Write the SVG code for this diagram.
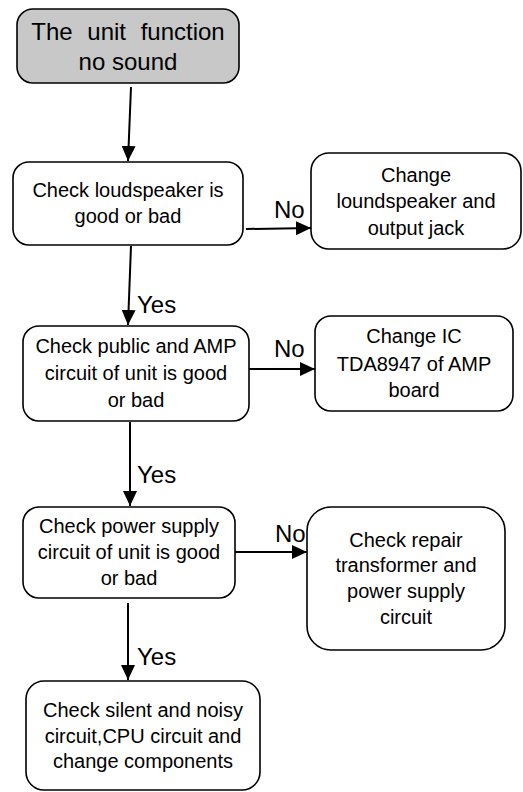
<svg xmlns="http://www.w3.org/2000/svg" width="523" height="792" viewBox="0 0 523 792">
<style>
.box{fill:#fff;stroke:#000;stroke-width:1.6}
.start{fill:#c8c8c8;stroke:#000;stroke-width:1.6}
.t{font-family:"Liberation Sans",Arial,sans-serif;font-size:20px;text-anchor:middle;fill:#000}
.tt{font-family:"Liberation Sans",Arial,sans-serif;font-size:24px;text-anchor:middle;fill:#000}
.lbl{font-family:"Liberation Sans",Arial,sans-serif;font-size:24px;fill:#000}
.c{stroke:#000;stroke-width:2;fill:none;marker-end:url(#ah)}
</style>
<defs>
<marker id="ah" markerUnits="userSpaceOnUse" markerWidth="16" markerHeight="14" refX="15" refY="7" orient="auto">
<path d="M0,0 L15,7 L0,14 Z" fill="#000"/>
</marker>
</defs>
<g id="n1">
<rect class="start" x="17" y="9" width="222" height="74" rx="16"/>
<text class="tt" x="128" y="40" word-spacing="8">The unit function</text>
<text class="tt" x="128" y="70">no sound</text>
</g>
<g id="n2">
<rect class="box" x="13" y="162" width="230" height="83" rx="16"/>
<text class="t" x="128" y="197">Check loudspeaker is</text>
<text class="t" x="128" y="223">good or bad</text>
</g>
<g id="n3">
<rect class="box" x="311" y="153" width="210" height="96" rx="18"/>
<text class="t" x="416" y="182">Change</text>
<text class="t" x="416" y="208">loundspeaker and</text>
<text class="t" x="416" y="235">output jack</text>
</g>
<g id="n4">
<rect class="box" x="23" y="326" width="226" height="95" rx="16"/>
<text class="t" x="136" y="353">Check public and AMP</text>
<text class="t" x="136" y="380">circuit of unit is good</text>
<text class="t" x="136" y="407">or bad</text>
</g>
<g id="n5">
<rect class="box" x="315" y="316" width="198" height="95" rx="16"/>
<text class="t" x="414" y="343">Change IC</text>
<text class="t" x="414" y="371">TDA8947 of AMP</text>
<text class="t" x="414" y="397">board</text>
</g>
<g id="n6">
<rect class="box" x="23" y="507" width="212" height="91" rx="16"/>
<text class="t" x="129" y="533">Check power supply</text>
<text class="t" x="129" y="559">circuit of unit is good</text>
<text class="t" x="129" y="585">or bad</text>
</g>
<g id="n7">
<rect class="box" x="307" y="507" width="198" height="143" rx="24"/>
<text class="t" x="406" y="547">Check repair</text>
<text class="t" x="406" y="572">transformer and</text>
<text class="t" x="406" y="598">power supply</text>
<text class="t" x="406" y="624">circuit</text>
</g>
<g id="n8">
<rect class="box" x="26" y="681" width="234" height="109" rx="18"/>
<text class="t" x="143" y="717">Check silent and noisy</text>
<text class="t" x="143" y="743">circuit,CPU circuit and</text>
<text class="t" x="143" y="768">change components</text>
</g>
<g id="connectors">
<line class="c" x1="131" y1="87" x2="128" y2="161"/>
<line class="c" x1="131" y1="246" x2="128" y2="325"/>
<line class="c" x1="130" y1="422" x2="130" y2="506"/>
<line class="c" x1="128" y1="603" x2="128" y2="680"/>
<line class="c" x1="246" y1="229" x2="311" y2="228"/>
<line class="c" x1="249" y1="369" x2="315" y2="369"/>
<line class="c" x1="235" y1="552" x2="307" y2="552"/>
<text class="lbl" x="274" y="218">No</text>
<text class="lbl" x="274" y="357">No</text>
<text class="lbl" x="275" y="542">No</text>
<text class="lbl" x="137" y="313">Yes</text>
<text class="lbl" x="137" y="483">Yes</text>
<text class="lbl" x="137" y="665">Yes</text>
</g>
</svg>
